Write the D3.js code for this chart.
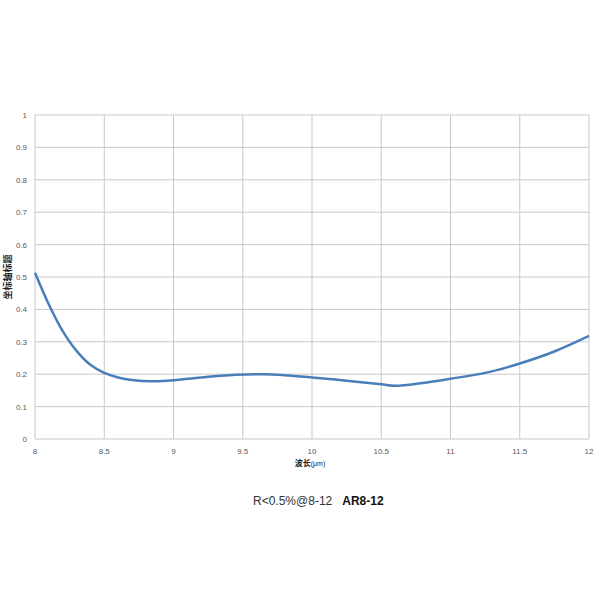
<!DOCTYPE html>
<html>
<head>
<meta charset="utf-8">
<script src="https://cdn.jsdelivr.net/npm/d3@7"></script>
<style>
  body { margin: 0; background: #fff; }
  text { font-family: "Liberation Sans", "Noto Sans CJK SC", sans-serif; }
</style>
</head>
<body>
<div id="chart"></div>
<script>
// wavelength (um) and reflectance
var wavelength = [8, 8.1, 8.2, 8.3, 8.4, 8.5, 8.6, 8.7, 8.85, 9, 9.2, 9.45, 9.65, 9.8, 10, 10.25, 10.5, 10.6, 10.8, 11, 11.25, 11.5, 11.75, 12];
var reflect = [0.513, 0.415, 0.333, 0.272, 0.229, 0.204, 0.19, 0.182, 0.178, 0.181, 0.19, 0.198, 0.2, 0.197, 0.19, 0.18, 0.169, 0.164, 0.173, 0.186, 0.204, 0.233, 0.27, 0.318];
var xTicks = [8, 8.5, 9, 9.5, 10, 10.5, 11, 11.5, 12];
var yTicks = [0, 0.1, 0.2, 0.3, 0.4, 0.5, 0.6, 0.7, 0.8, 0.9, 1];

var svg = d3.select("#chart").append("svg")
  .attr("width", 600)
  .attr("height", 600);

var pLeft = 35, pRight = 589, pTop = 115, pBottom = 439;

var x = d3.scaleLinear().domain([8, 12]).range([pLeft, pRight]);
var y = d3.scaleLinear().domain([0, 1]).range([pBottom, pTop]);

// grid
svg.append("g").selectAll("line").data(yTicks).enter().append("line")
  .attr("x1", pLeft).attr("x2", pRight)
  .attr("y1", function(d) { return y(d); })
  .attr("y2", function(d) { return y(d); })
  .attr("stroke", "#c8c8c8").attr("stroke-width", 1);

svg.append("g").selectAll("line").data(xTicks).enter().append("line")
  .attr("y1", pTop).attr("y2", pBottom)
  .attr("x1", function(d) { return x(d); })
  .attr("x2", function(d) { return x(d); })
  .attr("stroke", "#c8c8c8").attr("stroke-width", 1);

// tick labels
svg.append("g").selectAll("text").data(yTicks).enter().append("text")
  .attr("x", pLeft - 8)
  .attr("y", function(d) { return y(d) + 3; })
  .attr("text-anchor", "end")
  .attr("font-size", 8)
  .attr("fill", "#595959")
  .text(function(d) { return d; });

svg.append("g").selectAll("text").data(xTicks).enter().append("text")
  .attr("x", function(d) { return x(d); })
  .attr("y", pBottom + 15)
  .attr("text-anchor", "middle")
  .attr("font-size", 8)
  .attr("fill", "#595959")
  .text(function(d) { return d; });

// the curve
var pts = wavelength.map(function(w, i) { return [w, reflect[i]]; });
var line = d3.line()
  .x(function(d) { return x(d[0]); })
  .y(function(d) { return y(d[1]); })
  .curve(d3.curveCatmullRom.alpha(0.5));

svg.append("path")
  .datum(pts)
  .attr("d", line)
  .attr("fill", "none")
  .attr("stroke", "#4a7ebb")
  .attr("stroke-width", 2.5);

// axis titles
svg.append("text")
  .attr("transform", "translate(11," + ((pTop + pBottom) / 2) + ") rotate(-90)")
  .attr("text-anchor", "middle")
  .attr("font-size", 9)
  .attr("font-weight", "bold")
  .attr("fill", "#222")
  .text("坐标轴标题");

var xt = svg.append("text")
  .attr("x", 310)
  .attr("y", 466)
  .attr("text-anchor", "middle")
  .attr("fill", "#222");
xt.append("tspan").attr("font-size", 8).attr("font-weight", "bold").text("波长");
xt.append("tspan").attr("font-size", 7).text("(μm)");

// caption
var cap = svg.append("text")
  .attr("x", 253)
  .attr("y", 505)
  .attr("fill", "#333");
cap.append("tspan").attr("font-size", 12).text("R<0.5%@8-12");
cap.append("tspan").attr("dx", 10).attr("font-size", 12).attr("font-weight", "bold").attr("fill", "#111").text("AR8-12");
</script>
</body>
</html>
